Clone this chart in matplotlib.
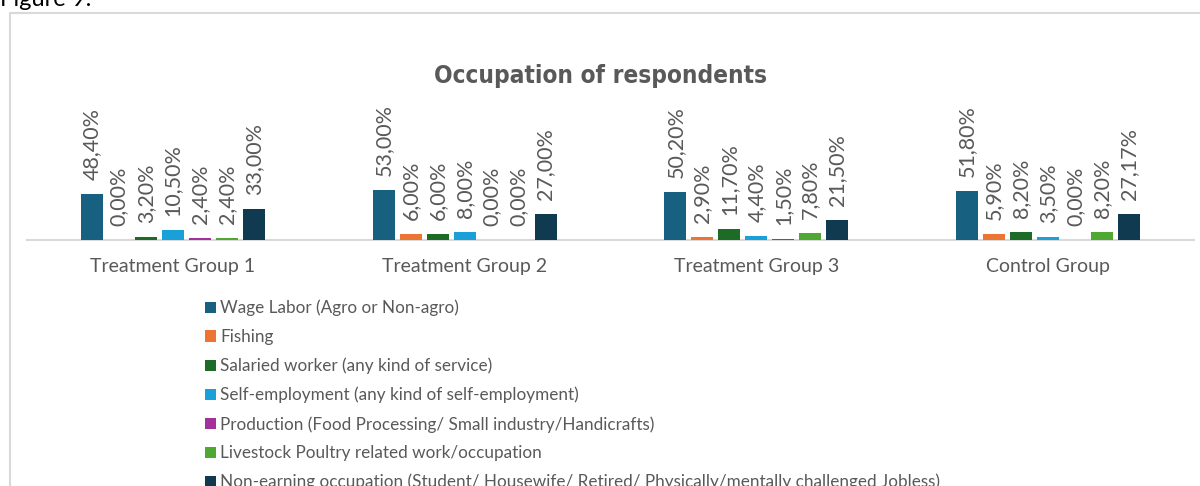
import matplotlib.pyplot as plt
from matplotlib.patches import Patch, Rectangle
import numpy as np

plt.rcParams['font.family'] = ['Lato', 'DejaVu Sans']

# Data
groups = ['Treatment Group 1', 'Treatment Group 2', 'Treatment Group 3', 'Control Group']
occupations = [
    'Wage Labor (Agro or Non-agro)',
    'Fishing',
    'Salaried worker (any kind of service)',
    'Self-employment (any kind of self-employment)',
    'Production (Food Processing/ Small industry/Handicrafts)',
    'Livestock Poultry related work/occupation',
    'Non-earning occupation (Student/ Housewife/ Retired/ Physically/mentally challenged Jobless)',
]
wage_labor = [48.40, 53.00, 50.20, 51.80]
fishing = [0.00, 6.00, 2.90, 5.90]
salaried = [3.20, 6.00, 11.70, 8.20]
self_employment = [10.50, 8.00, 4.40, 3.50]
production = [2.40, 0.00, 1.50, 0.00]
livestock = [2.40, 0.00, 7.80, 8.20]
non_earning = [33.00, 27.00, 21.50, 27.17]
value_labels = [
    ['48,40%', '53,00%', '50,20%', '51,80%'],
    ['0,00%', '6,00%', '2,90%', '5,90%'],
    ['3,20%', '6,00%', '11,70%', '8,20%'],
    ['10,50%', '8,00%', '4,40%', '3,50%'],
    ['2,40%', '0,00%', '1,50%', '0,00%'],
    ['2,40%', '0,00%', '7,80%', '8,20%'],
    ['33,00%', '27,00%', '21,50%', '27,17%'],
]

series = [wage_labor, fishing, salaried, self_employment, production, livestock, non_earning]
colors = ['#17607F', '#EC7533', '#1C6B27', '#1AA0D8', '#A4309A', '#4FA832', '#0F3A4F']
text_gray = '#595959'

fig = plt.figure(figsize=(12, 4.86), dpi=100)

# outer chart frame
fig.patches.append(Rectangle((10 / 1200, -0.05), 1.2, 1 - 13 / 486 + 0.05,
                             transform=fig.transFigure, fill=False,
                             edgecolor='#D9D9D9', linewidth=1.5))
fig.text(0.0, 1.0, 'Figure 9:', fontsize=17, color='black', va='center', ha='left')

ax = fig.add_axes([27 / 1200, (486 - 240) / 486, (1194 - 27) / 1200, 100 / 486])
x = np.arange(len(groups))
pitch = 0.0925
width = 0.0753
for i, (vals, col) in enumerate(zip(series, colors)):
    pos = x + (i - 3) * pitch
    ax.bar(pos, vals, width=width, color=col, zorder=3)
    for p, v, lab in zip(pos, vals, value_labels[i]):
        ax.annotate(lab, (p, v), xytext=(0, 10), textcoords='offset points',
                    rotation=90, ha='center', va='bottom', fontsize=15.5,
                    color=text_gray, annotation_clip=False)

ax.set_xlim(-0.5, 3.5)
ax.set_ylim(0, 105)
for s in ['top', 'right', 'left']:
    ax.spines[s].set_visible(False)
ax.spines['bottom'].set_color('#D9D9D9')
ax.spines['bottom'].set_linewidth(1.5)
ax.set_yticks([])
ax.set_xticks(x)
ax.set_xticklabels(groups, fontsize=14, color=text_gray)
ax.tick_params(axis='x', length=0, pad=13)

fig.text(0.5, 1 - 76 / 486, 'Occupation of respondents', ha='center', va='center',
         fontsize=17.5, fontweight='bold', fontstretch='condensed', color=text_gray,
         family=['DejaVu Sans'])

handles = [Patch(facecolor=c) for c in colors]
fig.legend(handles, occupations, loc='upper left', bbox_to_anchor=(198 / 1200, 1 - 293 / 486),
           frameon=False, fontsize=12.3, labelcolor=text_gray, handlelength=0.65,
           handleheight=0.65, handletextpad=0.25, labelspacing=0.74, borderaxespad=0)

fig.savefig('out.png', dpi=100)
